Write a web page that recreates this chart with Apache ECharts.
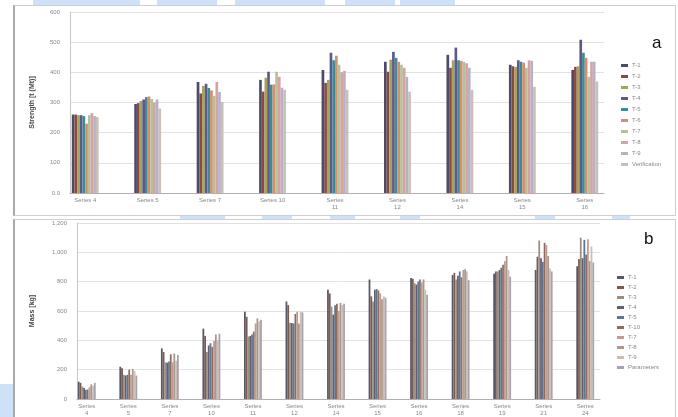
<!DOCTYPE html>
<html><head><meta charset="utf-8">
<script src="https://cdn.jsdelivr.net/npm/echarts@6/dist/echarts.min.js"></script>
<style>
html,body{margin:0;padding:0;background:#fff;width:678px;height:417px;overflow:hidden;position:relative;font-family:"Liberation Sans",Arial,sans-serif;}
.deco{position:absolute;background:#cfe1f6;}
.panel{position:absolute;border:1px solid #cfcfcf;border-left:2px solid #a9a9a9;background:#fff;box-sizing:border-box;}
.ch{position:absolute;left:0;top:0;width:678px;height:417px;}
</style></head>
<body>
<div class="deco" style="left:33px;top:0;width:107px;height:6px"></div>
<div class="deco" style="left:157px;top:0;width:60px;height:6px"></div>
<div class="deco" style="left:235px;top:0;width:90px;height:6px"></div>
<div class="deco" style="left:345px;top:0;width:50px;height:6px"></div>
<div class="deco" style="left:400px;top:0;width:55px;height:6px"></div>
<div class="deco" style="left:0;top:384px;width:13px;height:33px"></div>
<div class="deco" style="left:180px;top:215px;width:45px;height:4px"></div>
<div class="deco" style="left:262px;top:215px;width:30px;height:4px"></div>
<div class="deco" style="left:330px;top:215px;width:25px;height:4px"></div>
<div class="deco" style="left:400px;top:215px;width:20px;height:4px"></div>
<div class="deco" style="left:535px;top:215px;width:20px;height:4px"></div>
<div class="deco" style="left:612px;top:215px;width:18px;height:4px"></div>
<div class="panel" style="left:13px;top:5px;width:663px;height:211px"></div>
<div class="panel" style="left:13px;top:219px;width:663px;height:200px"></div>
<div id="ca" class="ch"></div>
<div id="cb" class="ch"></div>
<script>
// ---------- Panel a data ----------
const seriesNamesA = ['T-1','T-2','T-3','T-4','T-5','T-6','T-7','T-8','T-9','Verification'];
const categoriesA = ['Series 4','Series 5','Series 7','Series 10','Series\n11','Series\n12','Series\n14','Series\n15','Series\n16'];
const yTicksA = ['0.0','100','200','300','400','500','600'];
const aS4  = [260, 260, 258, 258, 255, 230, 258, 265, 255, 252];
const aS5  = [295, 298, 305, 310, 318, 320, 312, 300, 310, 280];
const aS7  = [368, 330, 355, 362, 348, 340, 322, 368, 335, 302];
const aS10 = [375, 336, 382, 402, 359, 360, 402, 385, 349, 342];
const aS11 = [408, 365, 375, 465, 440, 455, 425, 400, 405, 342];
const aS12 = [435, 402, 442, 468, 448, 435, 425, 415, 385, 336];
const aS14 = [458, 415, 440, 482, 440, 438, 435, 430, 415, 342];
const aS15 = [425, 420, 418, 440, 435, 432, 415, 440, 438, 352];
const aS16 = [408, 418, 420, 508, 465, 448, 385, 435, 435, 370];
const groupsA = [aS4, aS5, aS7, aS10, aS11, aS12, aS14, aS15, aS16];

// ---------- Panel b data ----------
const seriesNamesB = ['T-1','T-2','T-3','T-4','T-5','T-10','T-7','T-8','T-9','Parameters'];
const categoriesB = ['Series\n4','Series\n5','Series\n7','Series\n10','Series\n11','Series\n12','Series\n14','Series\n15','Series\n16','Series\n18','Series\n19','Series\n21','Series\n24'];
const yTicksB = ['0','200','400','600','800','1,000','1,200'];
const bS4  = [118, 110, 85, 75, 62, 65, 80, 100, 90, 110];
const bS5  = [220, 210, 165, 160, 165, 200, 165, 205, 190, 160];
const bS7  = [345, 320, 250, 248, 255, 305, 250, 310, 260, 300];
const bS10 = [480, 430, 320, 365, 380, 355, 395, 440, 400, 445];
const bS11 = [595, 560, 425, 430, 440, 460, 515, 550, 530, 540];
const bS12 = [665, 640, 520, 518, 515, 580, 595, 515, 595, 590];
const bS14 = [745, 720, 630, 575, 640, 650, 600, 655, 640, 650];
const bS15 = [815, 700, 665, 745, 750, 740, 720, 680, 700, 690];
const bS16 = [825, 820, 790, 780, 800, 815, 795, 815, 745, 710];
const bS18 = [845, 860, 815, 840, 870, 830, 880, 885, 870, 810];
const bS19 = [855, 870, 870, 880, 895, 915, 940, 975, 880, 835];
const bS21 = [880, 970, 1080, 960, 935, 1065, 1050, 975, 890, 870];
const bS24 = [905, 955, 1100, 960, 1085, 985, 1090, 940, 1040, 930];
const groupsB = [bS4, bS5, bS7, bS10, bS11, bS12, bS14, bS15, bS16, bS18, bS19, bS21, bS24];

const colorsA = ['#4e4a6a','#8a4a40','#a4a35a','#5c5a86','#3f8a9a','#d3906a','#b8c09a','#d4a4a0','#b9b0c8','#c8c0b8'];
const colorsB = ['#5b5866','#7a5a52','#9a9080','#625f70','#5f7590','#8c6d60','#c29a94','#a8998a','#cdbcb4','#a5a2ab'];

const FONT = '"Liberation Sans", Arial, sans-serif';

function build(cfg) {
  const series = cfg.names.map((n, si) => ({
    name: n, type: 'bar', xAxisIndex: 1, yAxisIndex: 1,
    data: cfg.groups.map(g => g[si]),
    barGap: '0%', barCategoryGap: '57%',
    itemStyle: { color: cfg.colors[si] },
    animation: false
  }));
  return {
    animation: false,
    textStyle: { fontFamily: FONT },
    color: cfg.colors,
    title: { text: cfg.letter, left: cfg.letterX, top: cfg.letterY,
      textStyle: { fontSize: 17, fontWeight: 'normal', color: '#111', fontFamily: FONT } },
    legend: {
      orient: 'vertical', left: cfg.legLeft, top: cfg.legTop,
      itemWidth: 7, itemHeight: 3, itemGap: cfg.legGap,
      icon: 'rect',
      textStyle: { fontSize: 6, color: '#888', lineHeight: 7, fontFamily: FONT, padding: [0,0,0,-1] },
      data: cfg.names
    },
    grid: [
      { left: cfg.frame[0], top: cfg.top, width: cfg.frame[1], height: cfg.height },
      { left: cfg.bars[0], top: cfg.top, width: cfg.bars[1], height: cfg.height }
    ],
    xAxis: [
      { type: 'category', gridIndex: 0, data: cfg.cats,
        axisLine: { show: true, lineStyle: { color: '#b0b0b0', width: 1 } },
        axisTick: { show: false }, axisLabel: { show: false }, splitLine: { show: false } },
      { type: 'category', gridIndex: 1, data: cfg.cats,
        axisLine: { show: false }, axisTick: { show: false },
        axisLabel: { interval: 0, fontSize: 6, color: '#888', lineHeight: 7, margin: 4, fontFamily: FONT } }
    ],
    yAxis: [
      { type: 'value', gridIndex: 0, min: 0, max: cfg.max, interval: cfg.step,
        name: cfg.yName, nameLocation: 'middle', nameRotate: 90, nameGap: cfg.nameGap,
        nameTextStyle: { fontSize: 7, fontWeight: 'bold', color: '#444', fontFamily: FONT },
        axisLine: { show: true, lineStyle: { color: '#c8c8c8' } },
        axisTick: { show: false },
        axisLabel: { fontSize: 6, color: '#888', margin: 10, fontFamily: FONT,
          formatter: v => cfg.ticks[Math.round(v / cfg.step)] },
        splitLine: { lineStyle: { color: '#e2e2e2', width: 1 } } },
      { type: 'value', gridIndex: 1, min: 0, max: cfg.max, interval: cfg.step, show: false,
        splitLine: { show: false } }
    ],
    series
  };
}

const chartA = echarts.init(document.getElementById('ca'), null, { renderer: 'canvas' });
chartA.setOption(build({
  names: seriesNamesA, cats: categoriesA, groups: groupsA, colors: colorsA,
  ticks: yTicksA, max: 600, step: 100, yName: 'Strength [t (Mt)]', nameGap: 34,
  frame: [70, 534], bars: [54, 562], top: 12, height: 181,
  letter: 'a', letterX: 647, letterY: 30,
  legLeft: 616, legTop: 57, legGap: 4
}));

const chartB = echarts.init(document.getElementById('cb'), null, { renderer: 'canvas' });
chartB.setOption(build({
  names: seriesNamesB, cats: categoriesB, groups: groupsB, colors: colorsB,
  ticks: yTicksB, max: 1200, step: 200, yName: 'Mass [kg]', nameGap: 41,
  frame: [77, 523], bars: [66, 540], top: 223, height: 176,
  letter: 'b', letterX: 639, letterY: 226,
  legLeft: 612, legTop: 269, legGap: 3
}));
</script>
</body></html>
